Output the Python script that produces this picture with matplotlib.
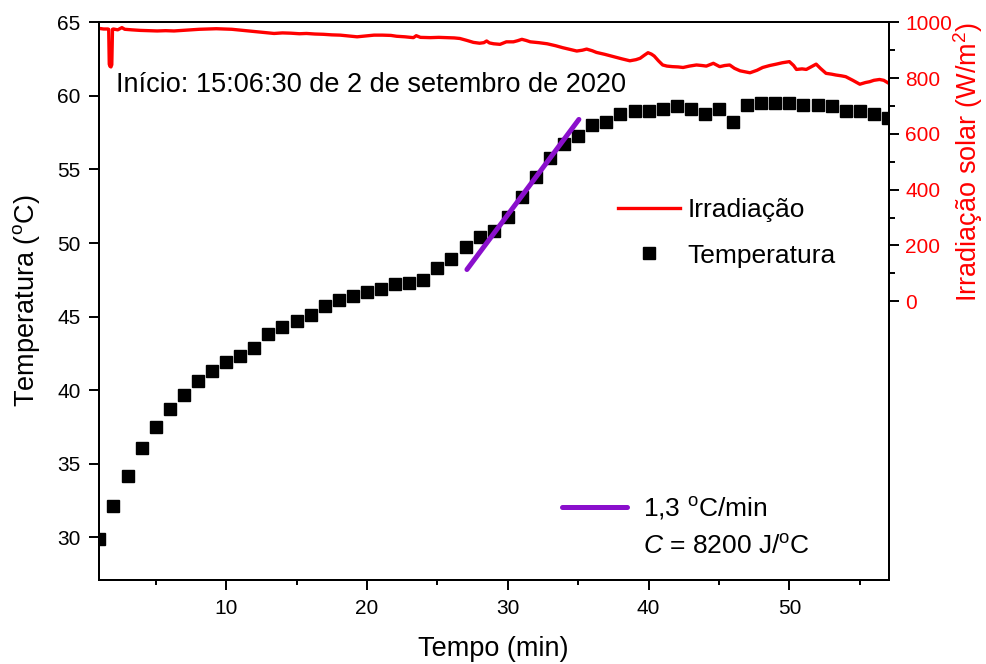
import matplotlib
matplotlib.use("Agg")
from matplotlib import pyplot as plt
from matplotlib.ticker import FixedLocator, MultipleLocator
from matplotlib.lines import Line2D

plt.rcParams['font.family'] = ['Liberation Sans', 'DejaVu Sans']
plt.rcParams['mathtext.fontset'] = 'custom'
plt.rcParams['mathtext.rm'] = 'Liberation Sans'
plt.rcParams['mathtext.it'] = 'Liberation Sans:italic'

# temperatura medida a cada minuto
tempo = list(range(1, 58))
temperatura = [
    29.9, 32.1, 34.2, 36.1, 37.5, 38.7, 39.7, 40.6, 41.3, 41.9,
    42.3, 42.9, 43.8, 44.3, 44.7, 45.1, 45.7, 46.1, 46.4, 46.7,
    46.9, 47.2, 47.3, 47.5, 48.3, 48.9, 49.7, 50.4, 50.8, 51.8,
    53.1, 54.5, 55.8, 56.7, 57.3, 58.0, 58.2, 58.8, 59.0, 59.0,
    59.1, 59.3, 59.1, 58.8, 59.1, 58.2, 59.4, 59.5, 59.5, 59.5,
    59.4, 59.4, 59.3, 59.0, 59.0, 58.8, 58.5,
]

# irradiacao solar (W/m2)
tempo_irr = [
    1.0, 1.3, 1.6, 1.66, 1.70, 1.75, 1.82, 1.88, 1.93, 2.0,
    2.3, 2.6, 2.8, 3.3, 3.9, 4.5, 5.1, 5.7, 6.3, 6.9,
    7.5, 8.1, 8.7, 9.3, 9.8, 10.4, 11.0, 11.6, 12.2, 12.8,
    13.4, 14.0, 14.6, 15.2, 15.7, 16.3, 16.9, 17.5, 18.1, 18.7,
    19.3, 19.9, 20.5, 21.1, 21.7, 22.1, 22.7, 23.3, 23.5, 23.8,
    24.5, 25.1, 25.7, 26.2, 26.6, 27.1, 27.56, 28.0, 28.3, 28.5,
    28.7, 29.0, 29.45, 29.9, 30.4, 30.7, 31.0, 31.3, 31.6, 32.2,
    32.8, 33.4, 33.9, 34.4, 34.9, 35.3, 35.6, 36.0, 36.3, 36.9,
    37.5, 38.1, 38.67, 39.1, 39.4, 39.7, 39.96, 40.2, 40.4, 40.7,
    41.0, 41.3, 41.7, 42.1, 42.45, 42.9, 43.4, 43.8, 44.1, 44.6,
    45.05, 45.4, 45.76, 46.1, 46.5, 46.9, 47.2, 47.7, 48.1, 48.6,
    49.07, 49.5, 50.0, 50.3, 50.5, 50.9, 51.2, 51.6, 51.9, 52.2,
    52.6, 53.0, 53.3, 53.7, 54.0, 54.5, 55.0, 55.4, 55.7, 56.0,
    56.4, 56.7, 57.0,
]
irradiacao = [
    978, 976, 976, 975, 850, 842, 840, 848, 975, 976,
    973, 981, 975, 973, 971, 970, 969, 970, 969, 971,
    973, 975, 976, 977, 976, 975, 972, 969, 966, 963,
    960, 962, 961, 959, 960, 958, 957, 955, 954, 951,
    948, 951, 954, 954, 953, 950, 948, 945, 952, 946,
    945, 946, 945, 944, 942, 935, 928, 925, 927, 933,
    926, 923, 921, 930, 930, 934, 939, 935, 930, 927,
    923, 916, 909, 903, 897, 900, 904, 898, 892, 885,
    877, 869, 862, 866, 871, 882, 891, 886, 879, 862,
    847, 843, 841, 840, 838, 843, 847, 845, 843, 853,
    841, 845, 847, 835, 826, 822, 819, 828, 838, 845,
    850, 855, 859, 845, 831, 833, 831, 842, 850, 835,
    817, 814, 811, 808, 805, 792, 778, 784, 787, 792,
    795, 792, 783,
]

# ajuste linear no trecho de subida
ajuste_x = [27.1, 35.05]
ajuste_y = [48.2, 58.4]

fig = plt.figure(figsize=(9.86, 6.64), dpi=100)
ax = fig.add_axes([0.1001, 0.1265, 0.8012, 0.8399])
ax2 = ax.twinx()

ax.plot(tempo, temperatura, 's', color='black', ms=8, zorder=3)
ax.plot(ajuste_x, ajuste_y, color='#8A0FCC', lw=3.6, solid_capstyle='round', zorder=4)
ax2.plot(tempo_irr, irradiacao, color='#FF0000', lw=2.4)

ax.set_xlim(0.95, 57.05)
ax.set_ylim(27.1, 65)
ax2.set_ylim(-1000, 1000)

ax.xaxis.set_major_locator(FixedLocator([10, 20, 30, 40, 50]))
ax.xaxis.set_minor_locator(FixedLocator([5, 15, 25, 35, 45, 55]))
ax.yaxis.set_major_locator(MultipleLocator(5))
ax2.yaxis.set_major_locator(FixedLocator([0, 200, 400, 600, 800, 1000]))
ax2.yaxis.set_minor_locator(FixedLocator([100, 300, 500, 700, 900]))

for s in ax.spines.values():
    s.set_linewidth(1.4)
for s in ax2.spines.values():
    s.set_linewidth(1.4)

ax.tick_params(axis='both', which='major', direction='out', length=7, width=1.4, labelsize=15)
ax.tick_params(axis='x', which='major', pad=7)
ax.tick_params(axis='y', which='major', pad=6)
ax.tick_params(axis='x', which='minor', direction='out', length=3.5, width=1.4)
ax2.tick_params(axis='y', which='major', direction='out', length=7, width=1.4,
                labelsize=15, labelcolor='#FF0000', pad=5)
ax2.tick_params(axis='y', which='minor', direction='out', length=4.5, width=1.4)

ax.set_xlabel('Tempo (min)', fontsize=19.5)
ax.xaxis.set_label_coords(0.5, -0.1)
ax.set_ylabel(r'Temperatura ($^{\mathrm{o}}$C)', fontsize=19.5)
ax.yaxis.set_label_coords(-0.072, 0.5)
ax2.set_ylabel(r'Irradiação solar (W/m$^{\mathrm{2}}$)', fontsize=19.5, color='#FF0000')
ax2.yaxis.set_label_coords(1.079, 0.75)

# texto em pixels da figura (origem embaixo)
fig.text(116 / 986, 1 - 85 / 664, 'Início: 15:06:30 de 2 de setembro de 2020',
         fontsize=19.5, va='center', ha='left')

h1 = [Line2D([], [], color='#FF0000', lw=2.4),
      Line2D([], [], ls='none', marker='s', color='black', ms=8)]
leg1 = ax2.legend(h1, ['Irradiação', 'Temperatura'], loc='upper left',
                  bbox_to_anchor=(618 / 986, 1 - 198 / 664), bbox_transform=fig.transFigure,
                  frameon=False, fontsize=19, handlelength=2.35, handletextpad=0.27,
                  labelspacing=0.82, borderpad=0, borderaxespad=0, numpoints=1)
ax2.add_artist(leg1)

h2 = [Line2D([], [], color='#8A0FCC', lw=3.6, solid_capstyle='round'),
      Line2D([], [], ls='none')]
leg2 = ax2.legend(h2, [r'1,3 $^{\mathrm{o}}$C/min', r'$C$ = 8200 J/$^{\mathrm{o}}$C'],
                  loc='upper left', bbox_to_anchor=(562 / 986, 1 - 495 / 664),
                  bbox_transform=fig.transFigure, frameon=False, fontsize=19,
                  handlelength=2.46, handletextpad=0.6, labelspacing=0.5,
                  borderpad=0, borderaxespad=0)

fig.savefig('out.png', dpi=100)
